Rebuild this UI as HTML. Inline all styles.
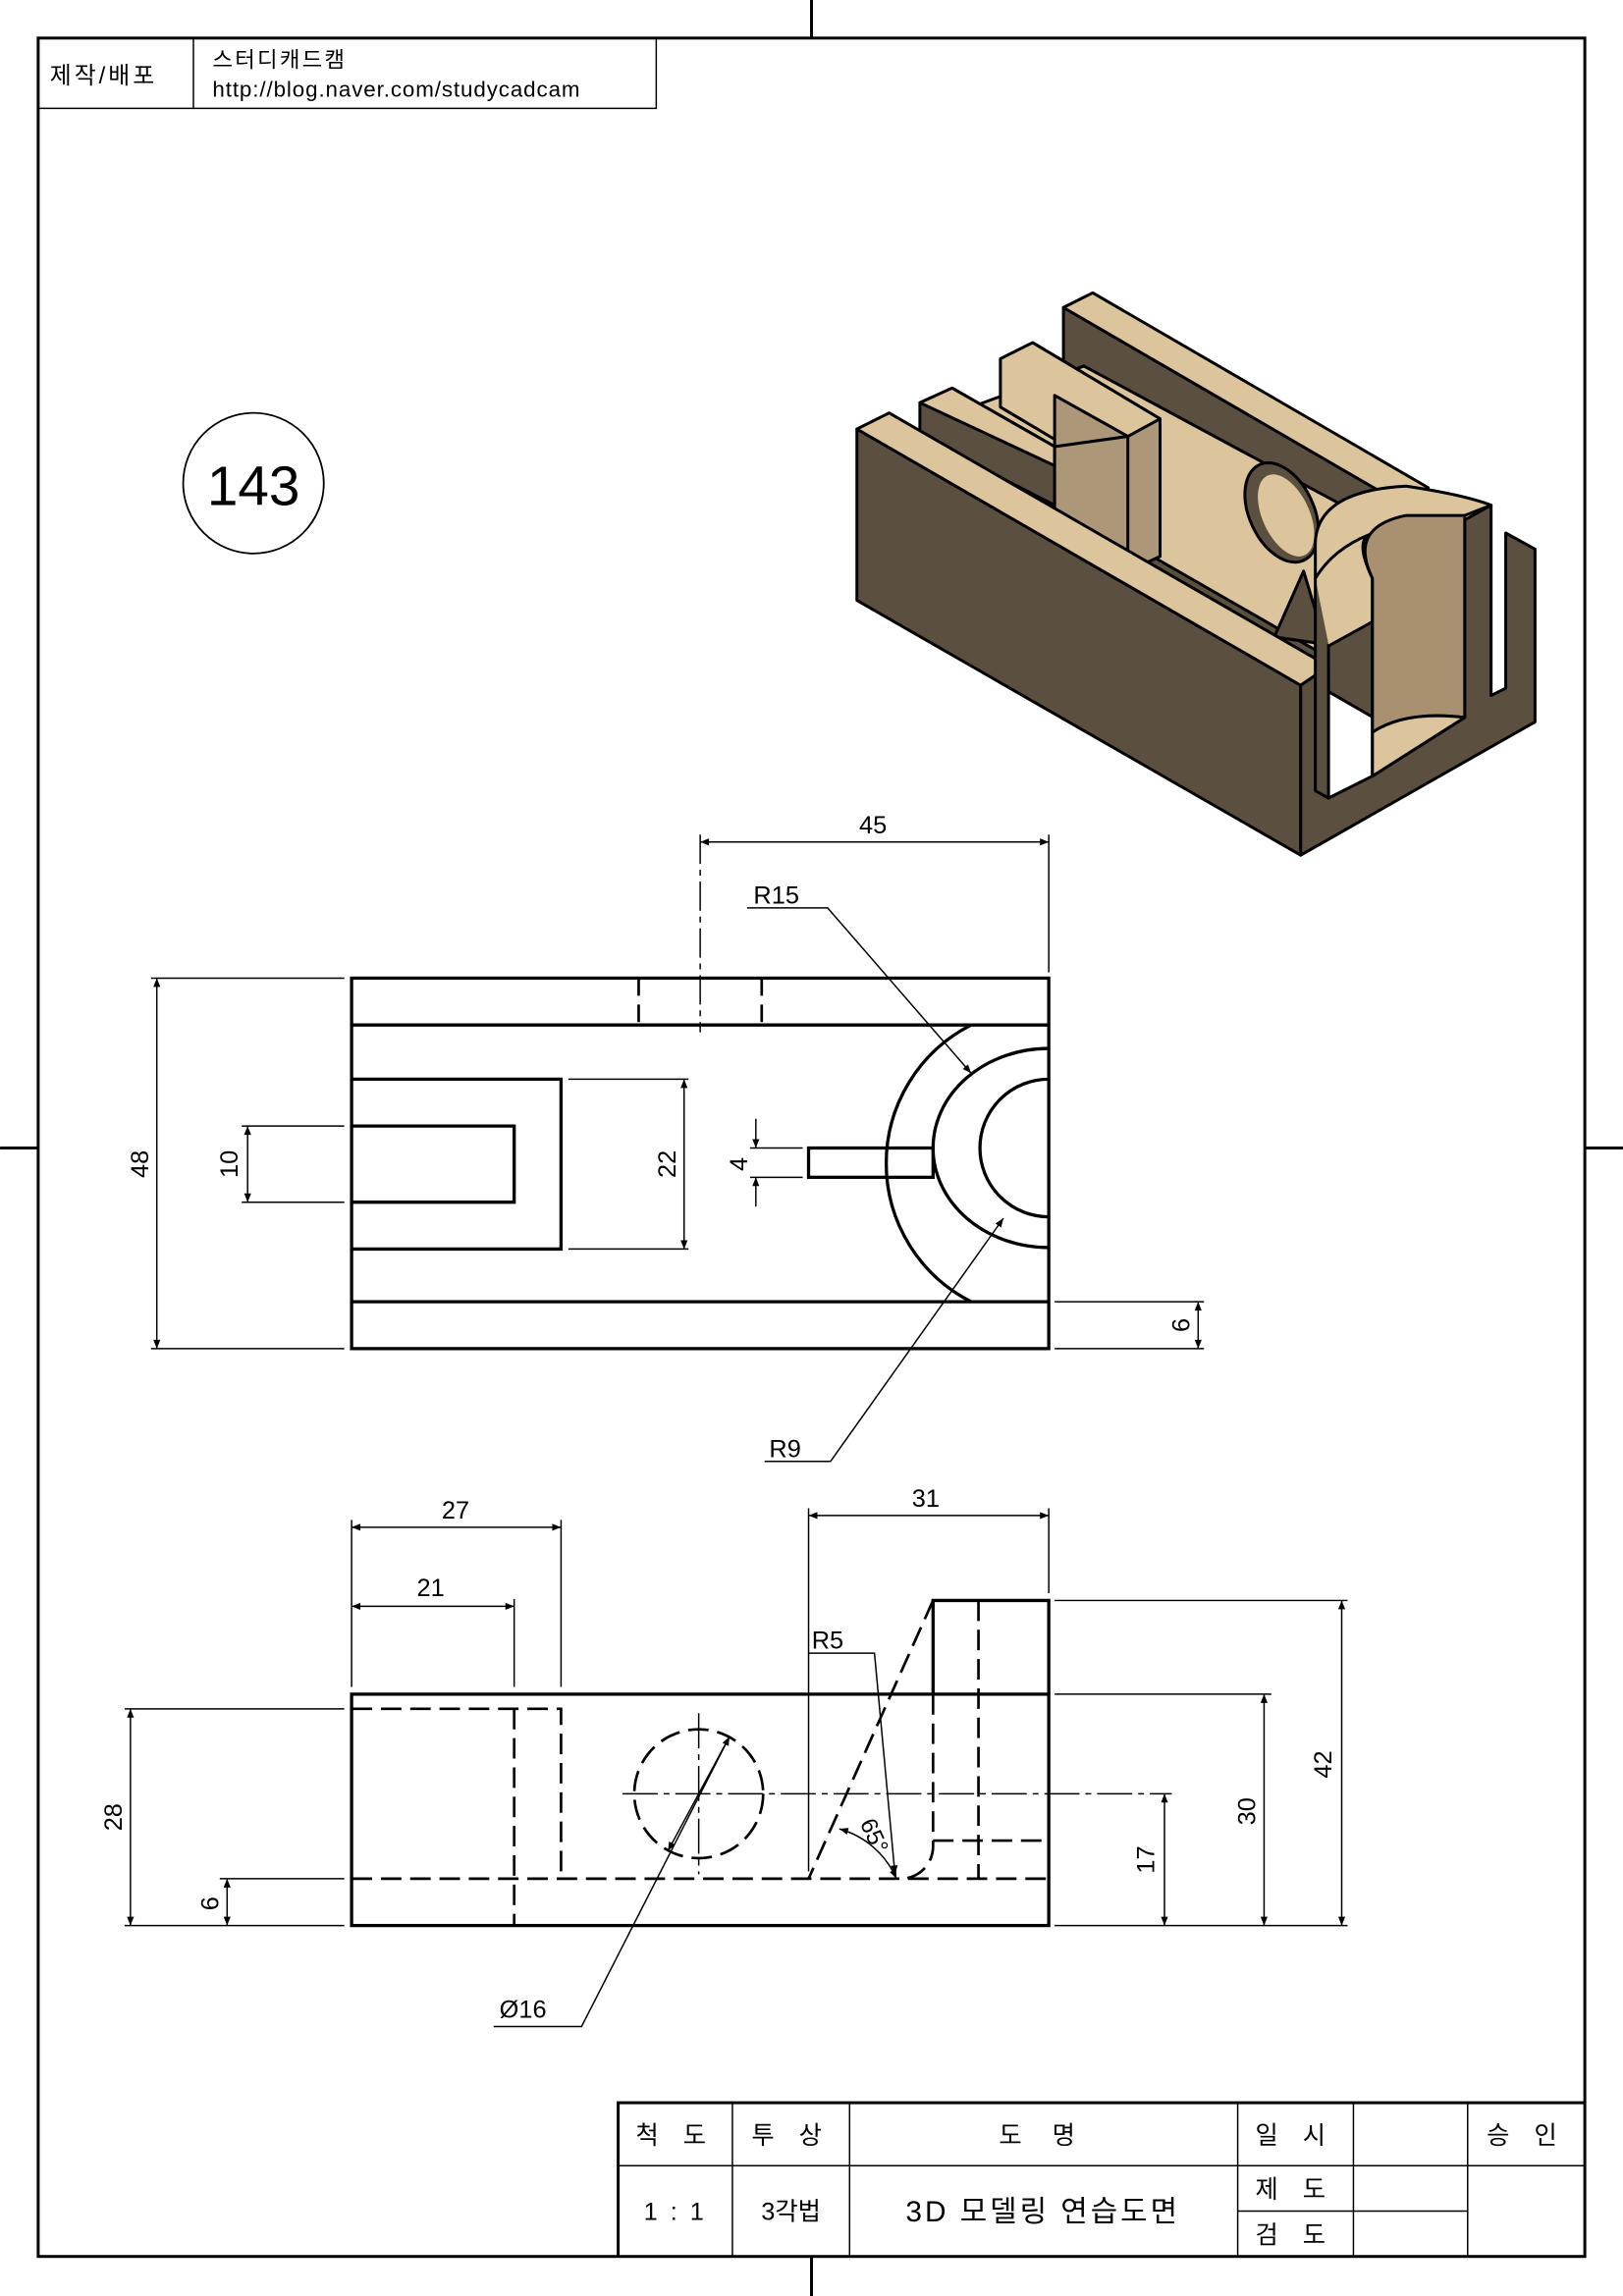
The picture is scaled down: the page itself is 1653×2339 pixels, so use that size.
<!DOCTYPE html>
<html><head><meta charset="utf-8"><style>
html,body{margin:0;padding:0;background:#fff}
svg{display:block}
text{font-family:"Liberation Sans","Noto Sans CJK KR",sans-serif;fill:#000}
</style></head><body>
<svg width="1653" height="2339" viewBox="0 0 1108 1568" xmlns="http://www.w3.org/2000/svg">
<defs>
<marker id="a" viewBox="0 0 10 10" refX="10" refY="5" markerWidth="9" markerHeight="6" orient="auto-start-reverse" markerUnits="userSpaceOnUse"><path d="M0,1 L10,5 L0,9z" fill="#000"/></marker>
</defs>
<rect width="1108" height="1568" fill="#fff"/>
<g stroke="#000" stroke-width="2" fill="none">
<rect x="26" y="26" width="1056" height="1515"/>
<line x1="554" y1="0" x2="554" y2="26"/><line x1="554" y1="1541" x2="554" y2="1568"/>
<line x1="0" y1="784" x2="26" y2="784"/><line x1="1082" y1="784" x2="1108" y2="784"/>
</g>
<g stroke="#000" stroke-width="1" fill="none">
<polyline points="26,74 448,74 448,26"/><line x1="132" y1="26" x2="132" y2="74"/>
</g>
<text x="34" y="57" font-size="16" letter-spacing="2">제작/배포</text>
<text x="145" y="46" font-size="15" letter-spacing="1.5">스터디캐드캠</text>
<text x="145" y="66" font-size="15" letter-spacing="0.6">http://blog.naver.com/studycadcam</text>
<circle cx="173" cy="330" r="48" fill="none" stroke="#000" stroke-width="1.2"/>
<text x="173" y="345" font-size="38" text-anchor="middle">143</text>

<!-- isometric -->
<g stroke="#000" stroke-width="2" stroke-linejoin="round">
<polygon points="726,210 955,343 955,500 726,368" fill="#5b4f3f"/>
<polygon points="726,210 746,200 975,333 955,343" fill="#dcc59d"/>
<polygon points="630,290 900,445 1000,390 740,250" fill="#dcc59d"/>
<ellipse cx="875" cy="350" rx="22" ry="36" transform="rotate(-25 875 350)" fill="#5b4f3f"/>
<ellipse cx="878" cy="352" rx="16" ry="30" transform="rotate(-25 878 352)" fill="#dcc59d" stroke="none"/>
<polygon points="683,245 705,234 792,286 792,380 770,390 720,370 720,300 683,278" fill="#ac9878"/>
<polygon points="683,245 705,234 792,286 770,298 720,270 720,300 683,278" fill="#dcc59d"/>
<polygon points="628,275 650,265 720,305 720,345 628,298" fill="#5b4f3f"/>
<polygon points="628,275 650,265 720,305 720,318" fill="#dcc59d"/>
<polygon points="720,305 770,298 770,380 720,352" fill="#ac9878"/>
<polygon points="870,435 890,390 905,440" fill="#5b4f3f"/>
<polygon points="585,293 888,468 888,584 585,410" fill="#5b4f3f"/>
<polygon points="585,293 607,282 907,455 888,468" fill="#dcc59d"/>
<polygon points="888,468 907,455 907,545 937,530 937,390 1018,345 1018,475 1028,470 1028,364 1048,375 1048,493 888,584" fill="#5b4f3f"/>
<path d="M898,370 Q900,335 960,332 Q1000,338 1018,345 L1000,352 L1000,490 L937,530 L937,395 Q925,370 935,365 Q910,375 898,395 Z" fill="#dcc59d"/>
<path d="M937,395 Q920,360 960,352 L1000,352 L1000,490 Q960,485 937,500 Z" fill="#a89070"/>
<path d="M937,530 L937,500 Q960,485 1000,490 Z" fill="#dcc59d"/>
<path d="M898,395 L898,540 L907,545 L907,440" fill="#5b4f3f"/>
</g>

<!-- top view -->
<g stroke="#000" stroke-width="2.2" fill="none">
<rect x="240" y="668" width="476" height="253"/>
<line x1="240" y1="700" x2="716" y2="700"/><line x1="240" y1="889" x2="716" y2="889"/>
<polyline points="240,737 383,737 383,853 240,853"/>
<polyline points="240,769 351,769 351,821 240,821"/>
<path d="M663,700 A106,106 0 0 0 663,889"/>
<path d="M716,716 A79,68 0 0 0 716,852" />
<path d="M716,737 A47,47 0 0 0 716,831"/>
<rect x="552" y="784" width="85" height="20"/>
</g>
<g stroke="#000" stroke-width="1.8" stroke-dasharray="12,6"><line x1="436" y1="668" x2="436" y2="700"/><line x1="520" y1="668" x2="520" y2="700"/></g>
<g stroke="#000" stroke-width="1" fill="none">
<line x1="478" y1="570" x2="478" y2="705" stroke-dasharray="20,4,4,4"/><line x1="716" y1="570" x2="716" y2="664"/>
<line x1="478" y1="575" x2="716" y2="575" marker-start="url(#a)" marker-end="url(#a)"/>
<line x1="103" y1="668" x2="235" y2="668"/><line x1="103" y1="921" x2="235" y2="921"/>
<line x1="107" y1="668" x2="107" y2="921" marker-start="url(#a)" marker-end="url(#a)"/>
<line x1="165" y1="769" x2="235" y2="769"/><line x1="165" y1="821" x2="235" y2="821"/>
<line x1="169" y1="769" x2="169" y2="821" marker-start="url(#a)" marker-end="url(#a)"/>
<line x1="388" y1="737" x2="470" y2="737"/><line x1="388" y1="853" x2="470" y2="853"/>
<line x1="467" y1="737" x2="467" y2="853" marker-start="url(#a)" marker-end="url(#a)"/>
<line x1="512" y1="784" x2="548" y2="784"/><line x1="512" y1="804" x2="548" y2="804"/>
<line x1="516" y1="764" x2="516" y2="784" marker-end="url(#a)"/><line x1="516" y1="824" x2="516" y2="804" marker-end="url(#a)"/>
<line x1="720" y1="889" x2="822" y2="889"/><line x1="720" y1="921" x2="822" y2="921"/>
<line x1="818" y1="889" x2="818" y2="921" marker-start="url(#a)" marker-end="url(#a)"/>
<polyline points="510,620 565,620 663,733" marker-end="url(#a)"/>
<polyline points="522,998 567,998 685,832" marker-end="url(#a)"/>
</g>
<g font-size="17">
<text x="596" y="569" text-anchor="middle">45</text>
<text x="530" y="617" text-anchor="middle">R15</text>
<text x="536" y="995" text-anchor="middle">R9</text>
<text transform="translate(101,795) rotate(-90)" text-anchor="middle">48</text>
<text transform="translate(162,795) rotate(-90)" text-anchor="middle">10</text>
<text transform="translate(461,795) rotate(-90)" text-anchor="middle">22</text>
<text transform="translate(510,795) rotate(-90)" text-anchor="middle">4</text>
<text transform="translate(812,905) rotate(-90)" text-anchor="middle">6</text>
</g>

<!-- front view -->
<g stroke="#000" stroke-width="2.2" fill="none">
<rect x="240" y="1157" width="476" height="158"/>
<polyline points="637,1157 637,1093 716,1093 716,1157"/>
</g>
<g stroke="#000" stroke-width="1.8" fill="none" stroke-dasharray="14,6">
<line x1="240" y1="1283" x2="716" y2="1283"/>
<polyline points="240,1167 383,1167 383,1283"/>
<line x1="351" y1="1167" x2="351" y2="1315"/>
<line x1="668" y1="1093" x2="668" y2="1283"/>
<line x1="637" y1="1093" x2="552" y2="1283"/>
<path d="M637,1157 L637,1261 A22,22 0 0 1 615,1283"/>
<line x1="637" y1="1257" x2="716" y2="1257"/>
<circle cx="477" cy="1225" r="44"/>
</g>
<g stroke="#000" stroke-width="1" fill="none">
<line x1="425" y1="1225" x2="800" y2="1225" stroke-dasharray="24,4,4,4"/>
<line x1="477" y1="1170" x2="477" y2="1280" stroke-dasharray="24,4,4,4"/>
<line x1="240" y1="1038" x2="240" y2="1152"/><line x1="383" y1="1038" x2="383" y2="1152"/><line x1="351" y1="1092" x2="351" y2="1152"/>
<line x1="240" y1="1043" x2="383" y2="1043" marker-start="url(#a)" marker-end="url(#a)"/>
<line x1="240" y1="1097" x2="351" y2="1097" marker-start="url(#a)" marker-end="url(#a)"/>
<line x1="552" y1="1030" x2="552" y2="1278"/><line x1="716" y1="1030" x2="716" y2="1088"/>
<line x1="552" y1="1035" x2="716" y2="1035" marker-start="url(#a)" marker-end="url(#a)"/>
<line x1="85" y1="1167" x2="235" y2="1167"/><line x1="85" y1="1315" x2="235" y2="1315"/><line x1="150" y1="1283" x2="235" y2="1283"/>
<line x1="89" y1="1167" x2="89" y2="1315" marker-start="url(#a)" marker-end="url(#a)"/>
<line x1="155" y1="1283" x2="155" y2="1315" marker-start="url(#a)" marker-end="url(#a)"/>
<line x1="720" y1="1093" x2="920" y2="1093"/><line x1="720" y1="1157" x2="868" y2="1157"/><line x1="720" y1="1315" x2="920" y2="1315"/>
<line x1="795" y1="1225" x2="795" y2="1315" marker-start="url(#a)" marker-end="url(#a)"/>
<line x1="863" y1="1157" x2="863" y2="1315" marker-start="url(#a)" marker-end="url(#a)"/>
<line x1="916" y1="1093" x2="916" y2="1315" marker-start="url(#a)" marker-end="url(#a)"/>
<polyline points="337,1384 397,1384 498,1186" marker-end="url(#a)"/>
<line x1="498" y1="1186" x2="456" y2="1264" marker-end="url(#a)"/>
<polyline points="552,1129 597,1129 611,1280" marker-end="url(#a)"/>
<path d="M612,1283 A60,60 0 0 0 573,1249" marker-start="url(#a)" marker-end="url(#a)"/>
</g>
<g font-size="17">
<text x="311" y="1037" text-anchor="middle">27</text>
<text x="294" y="1090" text-anchor="middle">21</text>
<text x="632" y="1029" text-anchor="middle">31</text>
<text x="565" y="1126" text-anchor="middle">R5</text>
<text x="357" y="1378" text-anchor="middle">Ø16</text>
<text transform="translate(83,1241) rotate(-90)" text-anchor="middle">28</text>
<text transform="translate(149,1300) rotate(-90)" text-anchor="middle">6</text>
<text transform="translate(788,1270) rotate(-90)" text-anchor="middle">17</text>
<text transform="translate(857,1237) rotate(-90)" text-anchor="middle">30</text>
<text transform="translate(909,1205) rotate(-90)" text-anchor="middle">42</text>
<text transform="translate(592,1256) rotate(65)" text-anchor="middle" font-size="16">65°</text>
</g>

<!-- title block -->
<g stroke="#000" stroke-width="2" fill="none">
<polyline points="422,1541 422,1436 1082,1436"/>
<line x1="422" y1="1479" x2="1082" y2="1479" stroke-width="1"/>
<line x1="500" y1="1436" x2="500" y2="1541" stroke-width="1"/>
<line x1="580" y1="1436" x2="580" y2="1541" stroke-width="1"/>
<line x1="845" y1="1436" x2="845" y2="1541" stroke-width="1"/>
<line x1="924" y1="1436" x2="924" y2="1541" stroke-width="1"/>
<line x1="1002" y1="1436" x2="1002" y2="1541" stroke-width="1"/>
<line x1="845" y1="1510" x2="1002" y2="1510" stroke-width="1"/>
</g>
<g font-size="17" text-anchor="middle">
<text x="461" y="1464" letter-spacing="6">척 도</text>
<text x="540" y="1464" letter-spacing="6">투 상</text>
<text x="712" y="1464" letter-spacing="8">도    명</text>
<text x="884" y="1464" letter-spacing="6">일 시</text>
<text x="1042" y="1464" letter-spacing="6">승 인</text>
<text x="461" y="1516" letter-spacing="2">1 : 1</text>
<text x="540" y="1516">3각법</text>
<text x="712" y="1517" font-size="20" letter-spacing="2">3D 모델링 연습도면</text>
<text x="884" y="1501" letter-spacing="6">제 도</text>
<text x="884" y="1532" letter-spacing="6">검 도</text>
</g>
</svg>
</body></html>
